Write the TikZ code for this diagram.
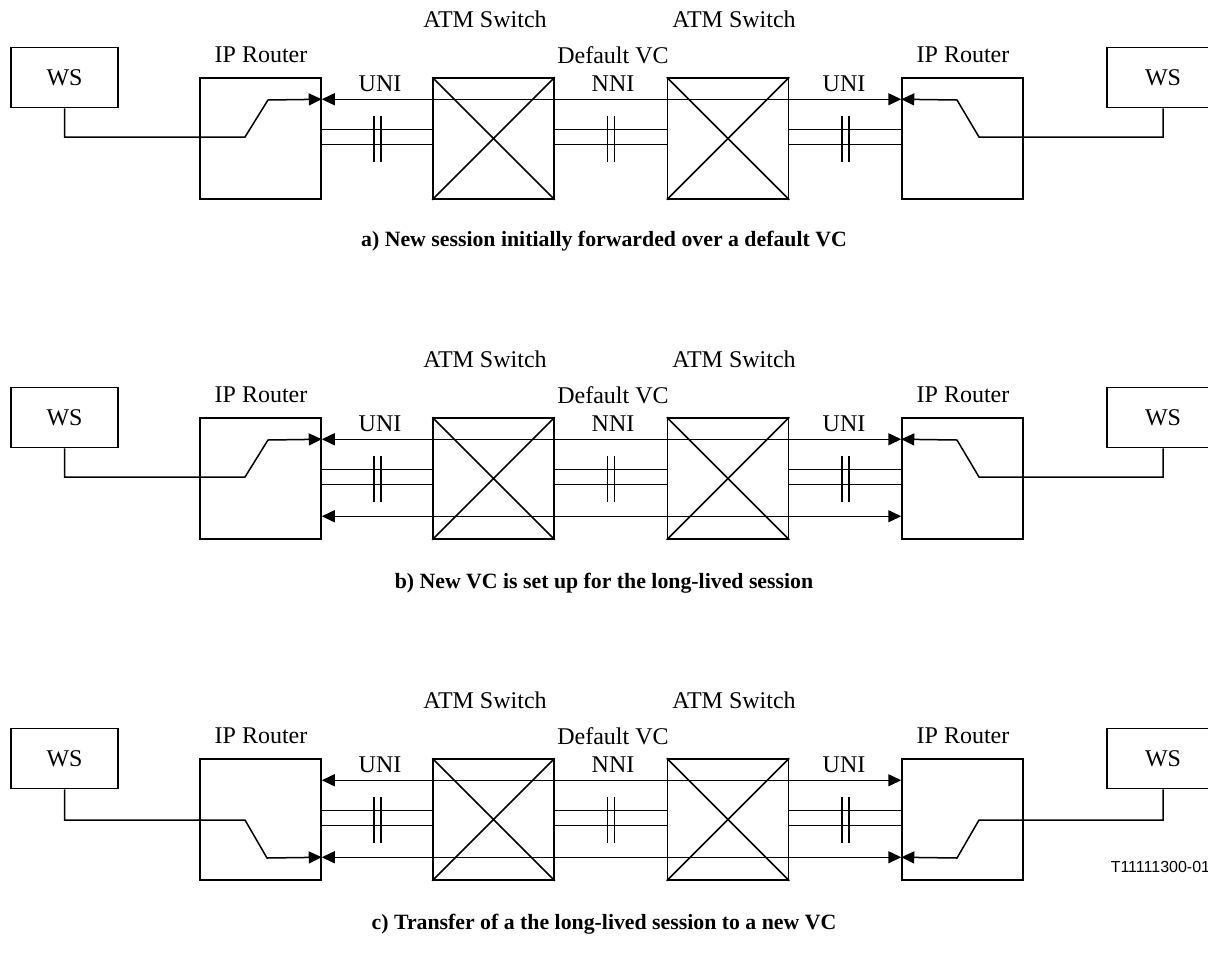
\documentclass[tikz,border=0pt]{standalone}
\usepackage{fontspec}
\setmainfont{Liberation Serif}
\setsansfont{Liberation Sans}
\usetikzlibrary{arrows.meta,positioning}
\tikzset{
  lbl/.style={font=\fontsize{24}{28}\selectfont,anchor=base,inner sep=0pt},
  caption/.style={font=\fontsize{21.8}{25}\selectfont\bfseries,anchor=base,inner sep=0pt},
  wsbox/.style={draw,minimum width=#1,minimum height=60pt,inner sep=0pt,font=\fontsize{24}{28}\selectfont},
  unitbox/.style={draw,minimum width=121pt,minimum height=121pt,inner sep=0pt},
  tip/.tip={Triangle[length=13pt,width=12pt]}
}
\begin{document}
\begin{tikzpicture}[x=1pt,y=-1pt,line width=1.5pt]
  \useasboundingbox (0,0) rectangle (1208,967);
  % the three panels share boxes, labels and trunk lines
  \foreach \p/\dy in {a/0,b/340,c/681}{
    \begin{scope}[yshift=-\dy pt]
      \node[wsbox=107pt] (wsL\p) at (64.5,77.5) {WS};
      \node[unitbox] (rtL\p) at (260.5,138.5) {};
      \node[unitbox] (swA\p) at (493.5,138.5) {};
      \node[unitbox] (swB\p) at (728,138.5) {};
      \node[unitbox] (rtR\p) at (962.5,138.5) {};
      \node[wsbox=112pt] (wsR\p) at (1163,77.5) {WS};
      \draw (swA\p.north west)--(swA\p.south east) (swA\p.north east)--(swA\p.south west);
      \draw (swB\p.north west)--(swB\p.south east) (swB\p.north east)--(swB\p.south west);
      \node[lbl] (atmA\p) at (485,27) {ATM Switch};
      \node[lbl] (atmB\p) at (734,27) {ATM Switch};
      \node[lbl] (ipL\p) at (261,62) {IP Router};
      \node[lbl] (ipR\p) at (963,62) {IP Router};
      \node[lbl] (dvc\p) at (613,63) {Default VC};
      \node[lbl] (uniL\p) at (380,91) {UNI};
      \node[lbl] (nni\p) at (613,91) {NNI};
      \node[lbl] (uniR\p) at (844,91) {UNI};
      \coordinate (tL\p) at ([yshift=-22pt]rtL\p.north east);
      \coordinate (tR\p) at ([yshift=-22pt]rtR\p.north west);
      \coordinate (bL\p) at ([yshift=-99pt]rtL\p.north east);
      \coordinate (bR\p) at ([yshift=-99pt]rtR\p.north west);
      \foreach \u/\v in {rtL/swA,swA/swB,swB/rtR}
        \draw ([yshift=-52pt]\u\p.north east)--([yshift=-52pt]\v\p.north west)
              ([yshift=-67pt]\u\p.north east)--([yshift=-67pt]\v\p.north west);
      \foreach \m in {377.5,611,845.5}
        \draw (\m-3.5,116)--(\m-3.5,162) (\m+3.5,116)--(\m+3.5,162);
      \draw[tip-tip] (tL\p)--(tR\p);
    \end{scope}
  }
  % WS to router, upper port
  \foreach \p/\dy in {a/0,b/340}{
    \begin{scope}[yshift=-\dy pt]
      \draw[-tip] (wsL\p.south) |- (245,137) -- (268,100) -- (tL\p);
      \draw[-tip] (wsR\p.south) |- (979,137) -- (957,100) -- (tR\p);
    \end{scope}
  }
  % new VC
  \foreach \p/\dy in {b/340,c/681}
    \draw[tip-tip] (bL\p)--(bR\p);
  % WS to router, lower port
  \begin{scope}[yshift=-681pt]
    \draw[-tip] (wsLc.south) |- (245,139) -- (267,177) -- (bLc);
    \draw[-tip] (wsRc.south) |- (979,139) -- (957,177) -- (bRc);
  \end{scope}
  \node[caption] (capa) at (604,246) {a) New session initially forwarded over a default VC};
  \node[caption] (capb) at (604,588) {b) New VC is set up for the long-lived session};
  \node[caption] (capc) at (604,929) {c) Transfer of a the long-lived session to a new VC};
  \node[anchor=base west,inner sep=0pt,font=\sffamily\fontsize{16}{19}\selectfont] (tag) at (1110,872) {T11111300-01};
\end{tikzpicture}
\end{document}
